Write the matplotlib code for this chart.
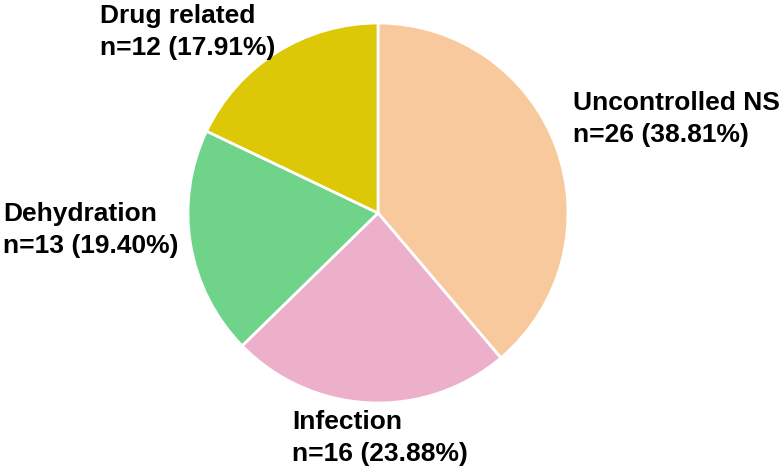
import numpy as np
import matplotlib
matplotlib.use('agg')
import matplotlib.pyplot as plt

plt.rcParams['font.family'] = ['Liberation Sans', 'DejaVu Sans']

# ---------------- data --------------------
causes = ['Uncontrolled NS', 'Infection', 'Dehydration', 'Drug related']
counts = [26, 16, 13, 12]
colors = ['#F8C99C', '#EDB0CB', '#6FD48A', '#DCC806']
label_xy = [(573, 119), (292, 438), (3, 230), (100, 32)]   # pixel coords, top-left origin

W, H = 780, 467
total = sum(counts)

fig = plt.figure(figsize=(W / 100, H / 100), dpi=100)
ax = fig.add_axes([0, 0, 1, 1])
ax.axis('off')

ax.pie(counts, colors=colors, startangle=90, counterclock=False,
       center=(378, H - 213), radius=190,
       wedgeprops=dict(edgecolor='white', linewidth=2))
ax.set_xlim(0, W)
ax.set_ylim(0, H)
ax.set_aspect('auto')

for name, n, (x, y) in zip(causes, counts, label_xy):
    txt = '%s\nn=%d (%.2f%%)' % (name, n, 100.0 * n / total)
    ax.text(x, H - y, txt, ha='left', va='center', fontsize=19,
            fontweight='bold', linespacing=1.42, clip_on=False)

plt.savefig('out.png', dpi=100)
plt.close('all')
